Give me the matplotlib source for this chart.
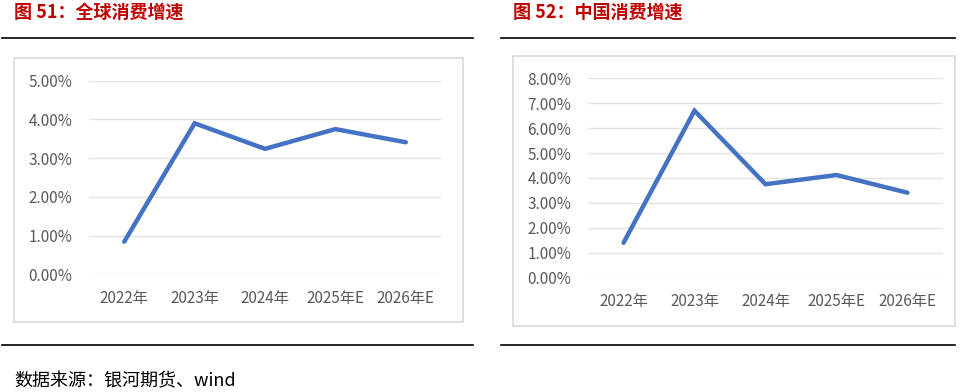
import matplotlib.pyplot as plt
from matplotlib.patches import Rectangle
from matplotlib.lines import Line2D
from matplotlib.ticker import FuncFormatter

plt.rcParams['font.family'] = ['Noto Sans CJK SC', 'DejaVu Sans']

years = ['2022年', '2023年', '2024年', '2025年E', '2026年E']
global_growth = [0.84, 3.90, 3.24, 3.75, 3.41]   # %
china_growth = [1.40, 6.70, 3.75, 4.12, 3.41]    # %

W, H = 960, 392
fig = plt.figure(figsize=(9.6, 3.92), dpi=100)


def fx(x):
    return x / W


def fy(y):
    return 1 - y / H


def hline(x0, x1, y, color='black', lw=1.2):
    fig.add_artist(Line2D([fx(x0), fx(x1)], [fy(y), fy(y)], color=color, lw=lw,
                          transform=fig.transFigure))


def box(x0, y0, x1, y1):
    r = Rectangle((fx(x0), fy(y1)), fx(x1) - fx(x0), fy(y0) - fy(y1),
                  transform=fig.transFigure, facecolor='white',
                  edgecolor='#d9d9d9', lw=1.2, zorder=-5)
    fig.add_artist(r)


def panel(left, right, top, bottom, values, ymax):
    ax = fig.add_axes([fx(left), fy(bottom), fx(right) - fx(left), fy(top) - fy(bottom)])
    ax.set_facecolor('none')
    ax.plot(range(len(years)), values, color='#4472c4', lw=3.2,
            solid_capstyle='round', solid_joinstyle='miter')
    ax.set_xlim(-0.5, len(years) - 0.5)
    ax.set_ylim(0, ymax)
    ax.set_yticks(range(0, ymax + 1))
    ax.yaxis.set_major_formatter(FuncFormatter(lambda v, p: f'{v:.2f}%'))
    ax.set_xticks(range(len(years)))
    ax.set_xticklabels(years)
    ax.grid(axis='y', color='#e3e3e3', lw=1)
    ax.set_axisbelow(True)
    for s in ax.spines.values():
        s.set_visible(False)
    ax.tick_params(length=0, colors='#595959', labelsize=11)
    ax.tick_params(axis='y', pad=12)
    ax.tick_params(axis='x', pad=11)
    return ax


# left panel
fig.text(fx(14), fy(12), '图 51：全球消费增速', color='#c00000', fontsize=13,
         fontweight='bold', va='center', ha='left')
hline(2, 473, 38)
box(14, 58, 463, 322)
panel(89, 441, 80.7, 274.3, global_growth, 5)
hline(2, 473, 345)

# right panel
fig.text(fx(513), fy(12), '图 52：中国消费增速', color='#c00000', fontsize=13,
         fontweight='bold', va='center', ha='left')
hline(501, 955, 38)
box(513, 56, 955, 326)
panel(588, 943, 78.3, 277.7, china_growth, 8)
hline(501, 955, 345)

fig.text(fx(14), fy(381), '数据来源：银河期货、wind', color='black', fontsize=13,
         va='center', ha='left')

plt.savefig('out.png', dpi=100)
plt.close()
